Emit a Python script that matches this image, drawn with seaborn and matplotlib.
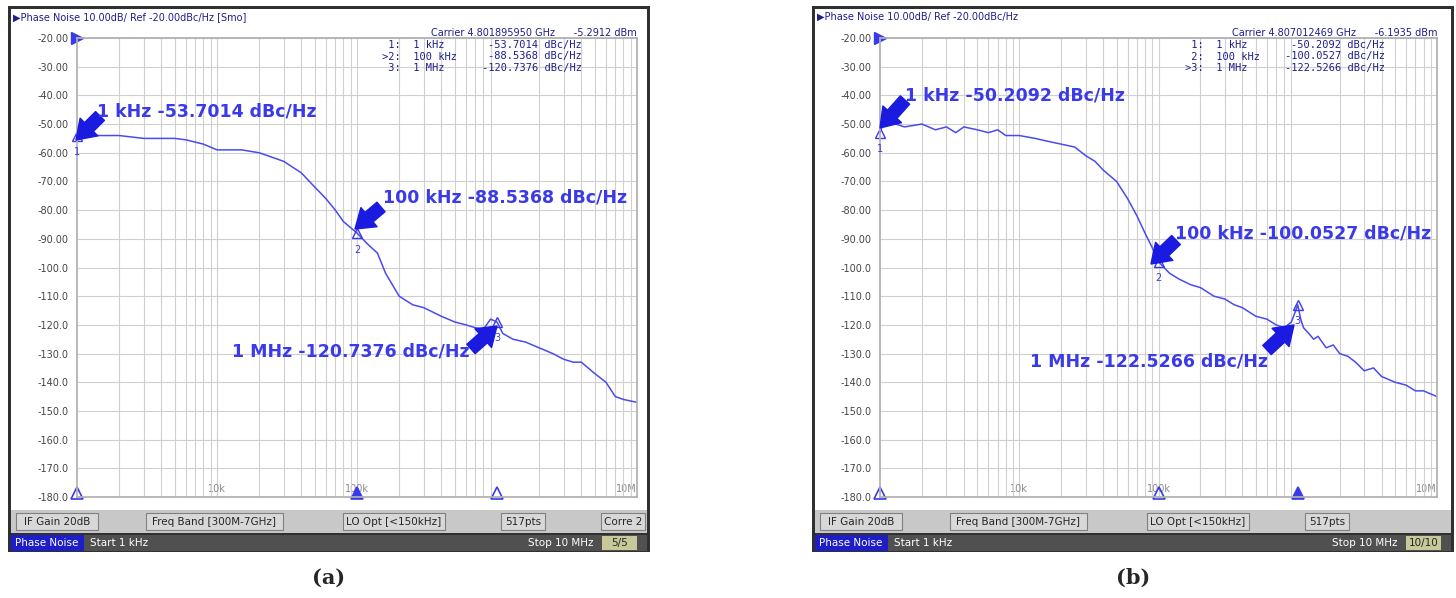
import matplotlib
matplotlib.use("Agg")
import matplotlib.pyplot as plt
import seaborn as sns
import numpy as np
import pandas as pd
from matplotlib.patches import Rectangle

W, H = 1456, 598
# ---- data ----
freq_a = [1e3, 1.5e3, 2e3, 3e3, 4e3, 5e3, 6e3, 8e3, 1e4, 1.5e4, 2e4, 3e4, 4e4, 5e4, 6e4, 7e4, 8e4, 1e5,
          1.2e5, 1.4e5, 1.6e5, 2e5, 2.5e5, 3e5, 4e5, 5e5, 6e5, 7e5, 8e5, 9e5, 1e6, 1.1e6, 1.3e6, 1.6e6,
          2e6, 2.5e6, 3e6, 3.5e6, 4e6, 5e6, 6e6, 7e6, 8e6, 1e7]
pn_a = [-54, -54, -54, -55, -55, -55, -55.5, -57, -59, -59, -60, -63, -67, -72, -76, -80, -84, -88,
        -92, -95, -102, -110, -113, -114, -117, -119, -120, -121, -121.5, -118, -119, -123, -125, -126,
        -128, -130, -132, -133, -133, -137, -140, -145, -146, -147]
freq_b = [1e3, 1.05e3, 1.1e3, 1.3e3, 1.5e3, 2e3, 2.5e3, 3e3, 3.5e3, 4e3, 5e3, 6e3, 7e3, 8e3, 1e4, 1.3e4,
          1.6e4, 2e4, 2.5e4, 3e4, 3.5e4, 4e4, 5e4, 6e4, 7e4, 8e4, 9e4, 1e5, 1.2e5, 1.4e5, 1.7e5, 2e5,
          2.5e5, 3e5, 3.5e5, 4e5, 5e5, 6e5, 7e5, 8e5, 9e5, 9.5e5, 1e6, 1.05e6, 1.1e6, 1.2e6, 1.3e6, 1.4e6,
          1.6e6, 1.8e6, 2e6, 2.3e6, 2.6e6, 3e6, 3.5e6, 4e6, 5e6, 6e6, 7e6, 8e6, 1e7]
pn_b = [-53, -50, -49, -50, -51, -50, -52, -51, -53, -51, -52, -53, -52, -54, -54, -55, -56, -57, -58,
        -61, -63, -66, -70, -76, -82, -88, -93, -98, -102, -104, -106, -107, -110, -111, -113, -114, -117,
        -118, -120, -121, -119, -116, -113, -118, -121, -123, -125, -124, -128, -127, -130, -131, -133,
        -136, -135, -138, -140, -141, -143, -143, -145]
ref_levels = [-20.00, -30.00, -40.00, -50.00, -60.00, -70.00, -80.00, -90.00, -100.0, -110.0, -120.0,
              -130.0, -140.0, -150.0, -160.0, -170.0, -180.0]
marker_freqs = [1e3, 1e5, 1e6]
vals_a = ["-53.7014", "-88.5368", "-120.7376"]
vals_b = ["-50.2092", "-100.0527", "-122.5266"]

BLUE = "#3a3ae8"
sns.set_theme(style="white")
plt.rcParams['font.family'] = ['DejaVu Sans']
fig = plt.figure(figsize=(W/100, H/100), dpi=100)

def fr(x0, y0, x1, y1):
    return [x0/W, 1-y1/H, (x1-x0)/W, (y1-y0)/H]

def rect(x0, y0, x1, y1, fc, ec="none", lw=0, z=-5):
    fig.patches.append(Rectangle((x0/W, 1-y1/H), (x1-x0)/W, (y1-y0)/H, transform=fig.transFigure,
                                 fc=fc, ec=ec, lw=lw, zorder=z))

def txt(x, y, s, **kw):
    fig.text(x/W, 1-y/H, s, zorder=10, **kw)

panels = [dict(ox=8, ax0=77, ax1=637, freq=freq_a, pn=pn_a, vals=vals_a, carrier="Carrier 4.801895950 GHz",
               pw="-5.2912 dBm", hdr="▶Phase Noise 10.00dB/ Ref -20.00dBc/Hz [Smo]", cnt="5/5", cap="a",
               sel=1, extra="Corre 2",
               ann=[((97, 112), (100, 116), (76, 140)), ((383, 197), (381, 207), (355, 229)),
                    ((470, 352), (471, 349), (497, 326))]),
          dict(ox=812, ax0=880, ax1=1437, freq=freq_b, pn=pn_b, vals=vals_b, carrier="Carrier 4.807012469 GHz",
               pw="-6.1935 dBm", hdr="▶Phase Noise 10.00dB/ Ref -20.00dBc/Hz", cnt="10/10", cap="b",
               sel=2, extra=None,
               ann=[((905, 95), (905, 100), (880, 128)), ((1175, 233), (1176, 240), (1151, 264)),
                    ((1268, 362), (1267, 350), (1294, 325))])]

for p in panels:
    ox = p["ox"]; x1 = ox + 642
    rect(ox, 6, x1, 552, "#303030", z=-10)
    rect(ox+3, 9, x1-3, 510, "white")
    rect(ox+3, 510, x1-3, 533, "#c8c8c8")
    rect(ox+3, 535, x1-3, 551, "#505050")
    rect(ox+3, 535, ox+76, 551, "#1e1ec8", z=-4)
    txt(ox+7, 543, "Phase Noise", color="white", fontsize=7.5, va="center")
    txt(ox+82, 543, "Start 1 kHz", color="white", fontsize=7.5, va="center")
    rect(x1-48, 536, x1-13, 550, "#c8c89a", z=-4)
    txt(x1-30, 543, p["cnt"], fontsize=7.5, ha="center", va="center")
    txt(x1-56, 543, "Stop 10 MHz", color="white", fontsize=7.5, ha="right", va="center")
    btns = [("IF Gain 20dB", 8, 90), ("Freq Band [300M-7GHz]", 138, 275), ("LO Opt [<150kHz]", 335, 437),
            ("517pts", 493, 537)]
    if p["extra"]:
        btns.append((p["extra"], 593, 637))
    for s, a, b in btns:
        rect(ox+a, 513, ox+b, 530, "#d8d8d8", ec="#808080", lw=0.8, z=-4)
        txt(ox+(a+b)/2, 522, s, fontsize=7.5, ha="center", va="center")
    txt(ox+5, 17, p["hdr"], fontsize=7, color="#1e1e8c", va="center")
    txt(p["ax1"], 33, p["carrier"] + "      " + p["pw"], fontsize=7, color="#1e1e8c", ha="right", va="center")
    txt((ox+x1)/2, 578, "(" + p["cap"] + ")", fontsize=15, ha="center", va="center",
        fontweight="bold", family="DejaVu Serif")

    ax = fig.add_axes(fr(p["ax0"], 38, p["ax1"], 497))
    ax.set_zorder(2)
    df = pd.DataFrame({"f": p["freq"], "pn": p["pn"]})
    sns.lineplot(data=df, x="f", y="pn", ax=ax, color="#4a4af0", lw=1.1)
    ax.set_xscale("log")
    ax.set_xlim(1e3, 1e7); ax.set_ylim(-180, -20)
    ax.set_yticks(ref_levels)
    ax.set_yticklabels([f"{v:.2f}" if v > -100 else f"{v:.1f}" for v in ref_levels], fontsize=7, color="#444")
    ax.set_xticks([1e4, 1e5, 1e7]); ax.set_xticklabels(["10k", "100k", "10M"], fontsize=7, color="#888")
    ax.set_xticks([m*10**e for e in range(3, 7) for m in range(2, 10)], minor=True)
    ax.tick_params(axis="x", which="both", length=0, pad=-9)
    ax.tick_params(axis="y", length=0, pad=6)
    labs = ax.get_xticklabels()
    labs[0].set_ha("center"); labs[1].set_ha("center"); labs[2].set_ha("right")
    ax.grid(True, which="both", color="#d0d0d0", lw=0.8)
    ax.set_xlabel(""); ax.set_ylabel("")
    for s in ax.spines.values():
        s.set_color("#b0b0b0")
    for i, mf in enumerate(marker_freqs):
        yv = float(np.interp(np.log10(mf), np.log10(p["freq"]), p["pn"]))
        ax.plot([mf], [yv], marker="^", ms=7, mfc="none", mec=BLUE, clip_on=False)
        ax.text(mf, yv - 4, str(i+1), color=BLUE, fontsize=7, ha="center", va="top")
        ax.plot([mf], [-178.5], marker="^", ms=9, mfc=BLUE if i == p["sel"] else "none", mec=BLUE,
                clip_on=False, mew=1.2)
    ax.plot([1e3], [-20], marker=">", ms=9, color=BLUE, clip_on=False)
    labels = ["1:  1 kHz", "2:  100 kHz", "3:  1 MHz"]
    for i, (lab, v) in enumerate(zip(labels, p["vals"])):
        pre = ">" if i == p["sel"] else " "
        yy = 45 + i*11.5
        txt(p["ax0"]+305, yy, pre + lab, fontsize=7.5, family="DejaVu Sans Mono", color="#1e1e8c", va="center")
        txt(p["ax0"]+505, yy, v + " dBc/Hz", fontsize=7.5, family="DejaVu Sans Mono", color="#1e1e8c",
            va="center", ha="right")
    names = ["1 kHz", "100 kHz", "1 MHz"]
    for i, ((tx, ty), (sx, sy), (ex, ey)) in enumerate(p["ann"]):
        s = f"{names[i]} {p['vals'][i]} dBc/Hz"
        ha = "right" if i == 2 else "left"
        txt(tx, ty, s, fontsize=12.5, fontweight="bold", color=BLUE, ha=ha, va="center")
        ax.annotate("", xy=(ex, H-ey), xycoords="figure pixels", xytext=(sx, H-sy), textcoords="figure pixels",
                    arrowprops=dict(arrowstyle="simple,head_width=1.5,head_length=1.1,tail_width=0.75",
                                    color="#1a1ae0", shrinkA=0, shrinkB=0), annotation_clip=False)

fig.savefig("out.png", dpi=100)
